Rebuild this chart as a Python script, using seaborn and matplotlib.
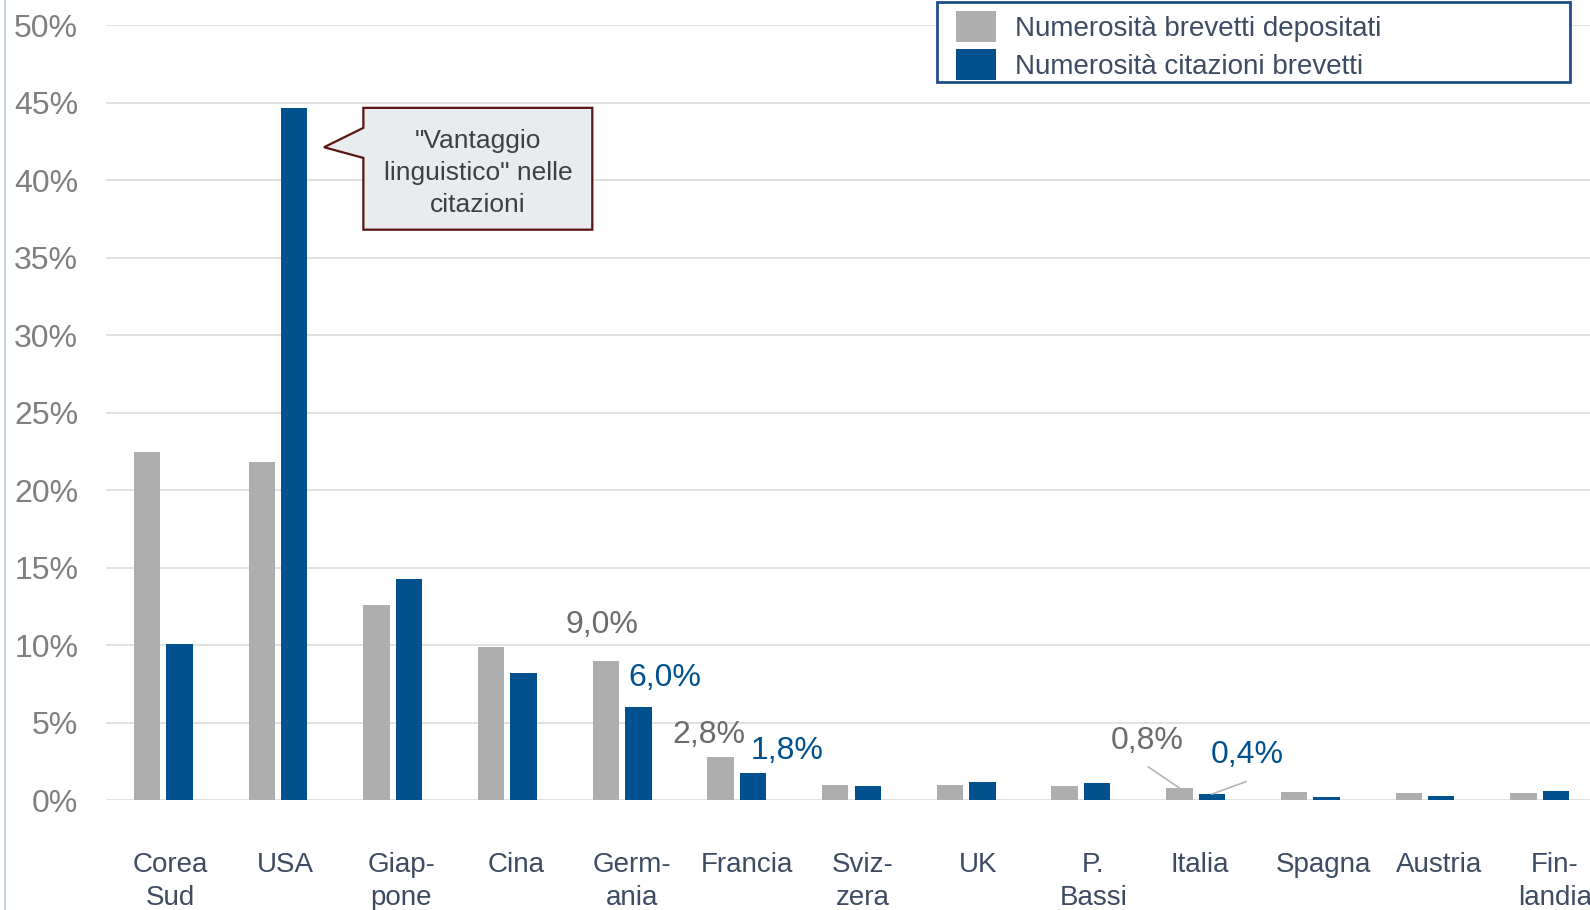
import matplotlib
matplotlib.use("Agg")
import matplotlib.pyplot as plt
import matplotlib.transforms as mtransforms
from matplotlib.patches import Patch, Polygon, Rectangle
from matplotlib.lines import Line2D
import seaborn as sns
import pandas as pd

# --- data -------------------------------------------------------------
paesi = ["Corea\nSud", "USA", "Giap-\npone", "Cina", "Germ-\nania", "Francia",
         "Sviz-\nzera", "UK", "P.\nBassi", "Italia", "Spagna", "Austria", "Fin-\nlandia"]
brevetti_depositati = [22.5, 21.8, 12.6, 9.9, 9.0, 2.8, 1.0, 1.0, 0.95, 0.8, 0.55, 0.5, 0.5]
citazioni_brevetti = [10.1, 44.7, 14.3, 8.2, 6.0, 1.8, 0.9, 1.2, 1.1, 0.4, 0.2, 0.3, 0.6]
serie = ["Numerosità brevetti depositati", "Numerosità citazioni brevetti"]
y_ticks = [0, 5, 10, 15, 20, 25, 30, 35, 40, 45, 50]

# value labels: (country index, series index, text)
etichette = [(4, 0, "9,0%"), (4, 1, "6,0%"), (5, 0, "2,8%"), (5, 1, "1,8%"),
             (9, 0, "0,8%"), (9, 1, "0,4%")]

GRIGIO = "#afaeae"
BLU = "#00518e"
TESTO_ASSE = "#3d4b63"
TESTO_Y = "#7f7f7f"

df = pd.DataFrame({
    "paese": paesi * 2,
    "serie": [serie[0]] * len(paesi) + [serie[1]] * len(paesi),
    "quota": brevetti_depositati + citazioni_brevetti,
})

sns.set_theme(style="white")
plt.rcParams["font.family"] = ["Liberation Sans", "DejaVu Sans"]
plt.rcParams["font.size"] = 20

W, H = 1590, 910
fig = plt.figure(figsize=(W / 100, H / 100), dpi=100)
ax = fig.add_axes([106 / W, 1 - 800.4 / H, 1491 / W, 775 / H])

BAR_GROUP = 0.566
BAR_GAP = 0.187
sns.barplot(data=df, x="paese", y="quota", hue="serie", hue_order=serie,
            palette=[GRIGIO, BLU], saturation=1, width=BAR_GROUP, gap=BAR_GAP,
            linewidth=0, legend=False, ax=ax, order=paesi)

ax.set_xlim(-0.5, len(paesi) - 0.5)
ax.set_ylim(0, 50)
ax.set_yticks(y_ticks)
ax.set_yticklabels([f"{t}%" for t in y_ticks])
ax.grid(axis="y", color="#d9d9d9", linewidth=1.1)
ax.set_axisbelow(True)
for s in ax.spines.values():
    s.set_visible(False)
ax.set_xlabel("")
ax.set_ylabel("")
ax.tick_params(axis="y", length=0, pad=20, labelsize=23, labelcolor=TESTO_Y)
ax.tick_params(axis="x", length=0, pad=37.5, labelsize=20, labelcolor=TESTO_ASSE)

for i, lab in enumerate(ax.get_xticklabels()):
    dx = 7 + 0.667 * i
    if i == 9:
        dx = 4
    shift = mtransforms.ScaledTranslation(dx / 100, 0, fig.dpi_scale_trans)
    lab.set_linespacing(1.32)
    lab.set_transform(lab.get_transform() + shift)

# value labels above selected bars
offset_bar = BAR_GROUP / 4
posizioni_testo = {
    (4, 0): (-2.5, 25.6), (4, 1): (19, 21.1),
    (5, 0): (-8.4, 15.8), (5, 1): (24.5, 15.3),
    (9, 0): (-23.4, 33.6), (9, 1): (25.3, 28.0),
}
# leader lines from the label down to the bar top (offset points of line start)
guide = {(9, 0): (-22.5, 15.3), (9, 1): (24.7, 9.1)}
for i, s_idx, txt in etichette:
    valori = brevetti_depositati if s_idx == 0 else citazioni_brevetti
    x = i + (offset_bar if s_idx else -offset_bar)
    colore = BLU if s_idx else "#6b6b6b"
    ax.annotate(txt, xy=(x, valori[i]), xytext=posizioni_testo[(i, s_idx)],
                textcoords="offset points", ha="center", va="center",
                fontsize=23, color=colore)
    if (i, s_idx) in guide:
        ax.annotate("", xy=(x, valori[i]), xytext=guide[(i, s_idx)],
                    textcoords="offset points",
                    arrowprops=dict(arrowstyle="-", color="#b5b5b5", lw=1.2,
                                    shrinkA=0, shrinkB=0))

# callout box next to the USA citations bar
callout = Polygon([(1.744, 44.68), (3.740, 44.68), (3.740, 36.82), (1.744, 36.82),
                   (1.744, 41.45), (1.401, 42.14), (1.744, 43.39)],
                  closed=True, facecolor="#e8ecef", edgecolor="#5a1414",
                  linewidth=1.6, zorder=5)
ax.add_patch(callout)
ax.text(2.742, 40.5, "\"Vantaggio\nlinguistico\" nelle\ncitazioni", ha="center",
        va="center", fontsize=19, color="#404040", linespacing=1.42, zorder=6)

# legend box and entries
fig.add_artist(Rectangle((937 / W, 1 - 82 / H), 633 / W, 80 / H, transform=fig.transFigure,
                         facecolor="white", edgecolor="#1f4e8c", linewidth=2, zorder=3))
handles = [Patch(facecolor=GRIGIO, edgecolor="none"), Patch(facecolor=BLU, edgecolor="none")]
leg = fig.legend(handles, serie, loc="upper left",
                 bbox_to_anchor=(956 / W, 1 - 11 / H),
                 borderaxespad=0, borderpad=0, fontsize=20, frameon=False,
                 handlelength=1.43, handleheight=1.32,
                 handletextpad=0.68, labelspacing=0.28)
leg.set_zorder(4)
for t in leg.get_texts():
    t.set_color(TESTO_ASSE)

# left frame edge
fig.add_artist(Line2D([5 / W, 5 / W], [0, 1], color="#c9d6ea", lw=1.5))

fig.savefig("out.png", dpi=100)
